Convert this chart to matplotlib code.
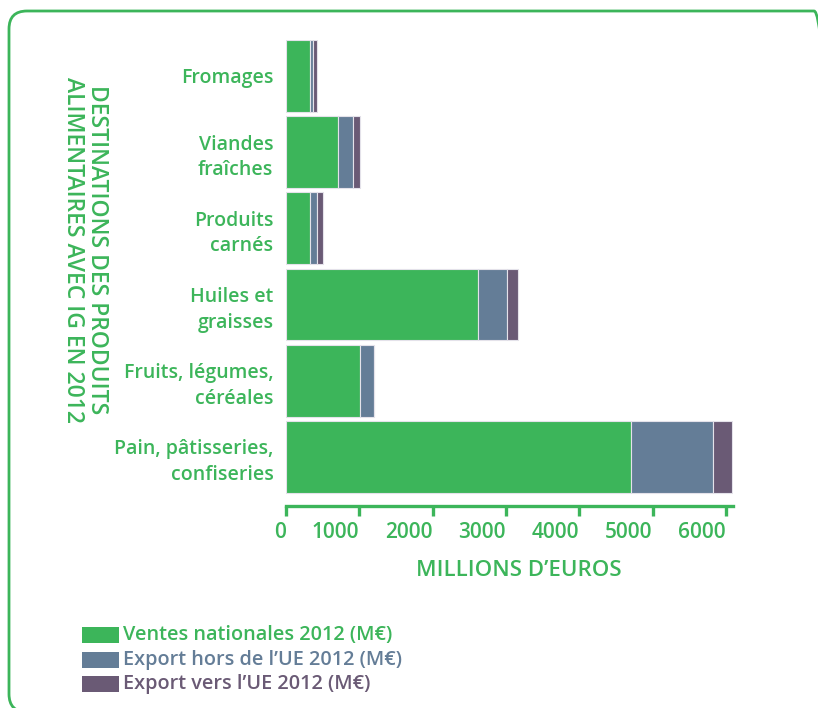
import matplotlib
matplotlib.use("Agg")
import matplotlib.pyplot as plt
from matplotlib.patches import FancyBboxPatch, Rectangle

categories = ["Fromages", "Viandes\nfraîches", "Produits\ncarnés", "Huiles et\ngraisses",
              "Fruits, légumes,\ncéréales", "Pain, pâtisseries,\nconfiseries"]
ventes_nationales = [327, 705, 323, 2618, 1009, 4705]
export_hors_ue = [37, 209, 100, 395, 195, 1118]
export_vers_ue = [55, 91, 77, 150, 0, 259]
series_labels = ["Ventes nationales 2012 (M€)", "Export hors de l’UE 2012 (M€)",
                 "Export vers l’UE 2012 (M€)"]
xticks = [0, 1000, 2000, 3000, 4000, 5000, 6000]

GREEN = "#3cb55a"
BLUE = "#647d97"
PURPLE = "#6a5a75"
TXT = "#3cb55a"
FONT = ["Open Sans", "DejaVu Sans"]
plt.rcParams["font.family"] = FONT
plt.rcParams["font.weight"] = "semibold"

W, H = 818, 708
fig = plt.figure(figsize=(W / 100, H / 100), dpi=100)

# rounded frame
frame = FancyBboxPatch((9 / W, 1 - 712 / H), (832 - 9) / W, (712 - 11) / H,
                       boxstyle="round,pad=0,rounding_size=0.022",
                       transform=fig.transFigure, fill=False,
                       edgecolor=GREEN, linewidth=2.0, clip_on=False,
                       mutation_aspect=W / H)
fig.patches.append(frame)

ax = fig.add_axes([286 / W, 1 - 505.7 / H, (733 - 286) / W, (505.7 - 40) / H])

n = len(categories)
ypos = [n - 1 - i for i in range(n)]
h = 0.94
ec = "#e4e2ea"
ax.barh(ypos, ventes_nationales, height=h, color=GREEN, edgecolor=ec, linewidth=0.8)
left2 = ventes_nationales
ax.barh(ypos, export_hors_ue, left=left2, height=h, color=BLUE, edgecolor=ec, linewidth=0.8)
left3 = [a + b for a, b in zip(ventes_nationales, export_hors_ue)]
ax.barh(ypos, export_vers_ue, left=left3, height=h, color=PURPLE, edgecolor=ec, linewidth=0.8)

ax.set_xlim(0, 6095)
ax.set_ylim(-0.64, n - 1 + 0.47)

for s in ["top", "right", "left"]:
    ax.spines[s].set_visible(False)
ax.spines["bottom"].set_color(GREEN)
ax.spines["bottom"].set_linewidth(2.4)

ax.set_xticks(xticks)
ax.set_xticklabels([str(t) for t in xticks])
for lab in ax.get_xticklabels():
    lab.set_ha("right")
ax.tick_params(axis="x", colors=GREEN, length=7, width=2.4, pad=5,
               labelsize=15, labelcolor=TXT)

ax.set_yticks(ypos)
ax.set_yticklabels(categories)
ax.tick_params(axis="y", length=0, pad=9, labelsize=14, labelcolor=TXT)
for lab in ax.get_yticklabels():
    lab.set_ha("right")
    lab.set_multialignment("right")
    lab.set_linespacing(1.38)

fig.text(519 / W, 1 - 570 / H, "MILLIONS D’EUROS", color=TXT, fontsize=16,
         ha="center", va="center")

fig.text(85 / W, 1 - 250 / H, "DESTINATIONS DES PRODUITS\nALIMENTAIRES AVEC IG EN 2012",
         color=TXT, fontsize=16.5, rotation=-90, ha="center", va="center",
         multialignment="center", linespacing=1.05)

# legend
colors = [GREEN, BLUE, PURPLE]
ys = [635, 660, 684]
for c, lab, y in zip(colors, series_labels, ys):
    fig.patches.append(Rectangle((82 / W, 1 - (y + 8) / H), 37 / W, 16 / H,
                                 transform=fig.transFigure, facecolor=c,
                                 edgecolor="none"))
    fig.text(123 / W, 1 - y / H, lab, color=c, fontsize=14.3, ha="left", va="center")

fig.savefig("out.png", dpi=100)
